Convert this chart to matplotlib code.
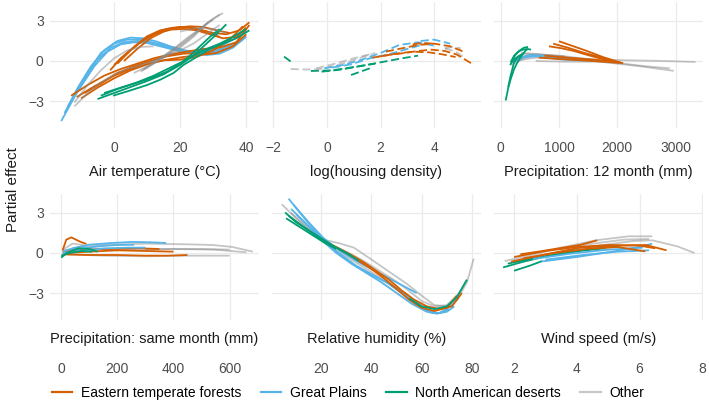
import matplotlib
matplotlib.use('Agg')
import matplotlib.pyplot as plt
from matplotlib.lines import Line2D

plt.rcParams['font.family'] = ['Liberation Sans', 'DejaVu Sans']

# region colours
colours = {'etf': '#D55E00', 'gp': '#56B4E9', 'nad': '#009E73', 'other': '#8C8C8C'}
region_names = ['Eastern temperate forests', 'Great Plains', 'North American deserts', 'Other']
region_keys = ['etf', 'gp', 'nad', 'other']

# each curve: (region, x values, partial effect values)
air_temp = [
    ('gp', [-16, -12, -8, -4, 0, 4, 8, 12, 16, 20, 24, 28, 32, 36, 40],
           [-4.5, -2.7, -0.9, 0.6, 1.3, 1.6, 1.6, 1.35, 1.05, 0.75, 0.65, 0.8, 1.05, 1.6, 2.3]),
    ('gp', [-14, -10, -6, -2, 2, 6, 10, 14, 18, 22, 26, 30, 34, 38, 40],
           [-3.4, -1.9, -0.4, 0.7, 1.25, 1.4, 1.35, 1.1, 0.85, 0.6, 0.5, 0.6, 0.9, 1.5, 1.9]),
    ('gp', [-15, -11, -7, -3, 1, 5, 9, 13, 17, 21, 25, 29, 33],
           [-3.9, -2.0, -0.4, 0.8, 1.5, 1.75, 1.7, 1.45, 1.1, 0.8, 0.7, 0.75, 0.9]),
    ('gp', [-13, -9, -5, -1, 3, 7, 11, 15, 20, 24, 28, 32, 36, 40],
           [-3.0, -1.3, 0.1, 1.0, 1.4, 1.5, 1.4, 1.2, 0.9, 0.6, 0.45, 0.55, 1.0, 1.8]),
    ('gp', [24, 28, 32, 35, 38],
           [0.57, 0.6, 0.85, 1.15, 1.55]),
    ('etf', [-1.2, 2, 6, 10, 14, 18, 22, 26, 30, 34, 38, 41],
            [-0.7, 0.2, 1.05, 1.85, 2.3, 2.5, 2.5, 2.35, 2.1, 2.0, 2.3, 2.9]),
    ('etf', [0, 4, 8, 12, 16, 20, 24, 28, 32],
            [-0.3, 0.6, 1.4, 2.0, 2.4, 2.55, 2.5, 2.2, 1.8]),
    ('etf', [1, 5, 9, 13, 17, 21, 25, 29, 33, 37, 40],
            [-0.2, 0.8, 1.6, 2.1, 2.35, 2.4, 2.3, 2.0, 1.7, 1.8, 2.5]),
    ('etf', [3, 7, 11, 15, 19, 23, 27, 31, 35],
            [0.0, 0.9, 1.7, 2.2, 2.5, 2.6, 2.55, 2.3, 2.1]),
    ('etf', [-11.3, -6, 0, 5, 11, 16, 21, 26, 31, 36, 40],
            [-2.7, -1.9, -1.1, -0.6, -0.15, 0.1, 0.3, 0.45, 0.6, 1.1, 2.0]),
    ('etf', [-10, -5, 0, 5, 10, 15, 20, 25, 30, 35, 39],
            [-2.8, -2.0, -1.3, -0.7, -0.25, 0.05, 0.1, 0.3, 0.8, 1.6, 2.6]),
    ('etf', [-13, -8, -3, 2, 7, 12, 17, 22, 27, 32, 37, 41],
            [-2.6, -1.8, -1.1, -0.6, -0.2, 0.2, 0.5, 0.7, 0.9, 1.0, 1.4, 2.7]),
    ('etf', [-9, -4, 1, 6, 11, 16, 21, 26],
            [-2.4, -1.7, -0.9, -0.4, 0.0, 0.35, 0.55, 0.6]),
    ('nad', [-5, 0, 5, 10, 15, 20, 24, 28, 31, 34],
            [-2.85, -2.4, -1.95, -1.5, -1.0, -0.3, 0.4, 1.3, 2.0, 2.75]),
    ('nad', [-0.3, 5, 10, 14, 18, 21, 25, 29, 33, 37, 41],
            [-2.6, -2.2, -1.8, -1.4, -0.9, -0.3, 0.3, 0.9, 1.3, 1.7, 2.3]),
    ('nad', [-4, 1, 6, 11, 16, 20, 23, 26, 29, 32],
            [-2.6, -2.1, -1.7, -1.3, -0.8, -0.2, 0.4, 1.1, 1.8, 2.4]),
    ('nad', [-3, 2, 7, 12, 17, 22, 27, 32, 36, 40],
            [-2.4, -2.0, -1.6, -1.1, -0.5, 0.1, 0.8, 1.3, 1.8, 2.4]),
    ('other', [-12, -8, -4, 0, 4, 8, 12],
              [-3.1, -1.8, -0.7, 0.2, 0.8, 1.05, 1.1]),
    ('other', [-12, -8, -4, 0, 4, 8, 12, 16, 20, 24, 28, 32],
              [-3.4, -2.4, -1.6, -1.0, -0.6, -0.3, 0.0, 0.4, 0.8, 1.3, 2.0, 2.7]),
    ('other', [8, 12, 16, 20, 24, 28, 32],
              [-0.8, -0.2, 0.4, 1.0, 1.8, 2.8, 3.5]),
    ('other', [9, 13, 17, 21, 25, 29, 33],
              [-0.6, 0.0, 0.7, 1.4, 2.2, 3.0, 3.6]),
    ('other', [8.5, 12.5, 16.5, 20.5, 24.5, 28.5],
              [-0.7, -0.1, 0.55, 1.2, 2.0, 2.9]),
    ('other', [6, 10, 14, 18, 22, 26, 30],
              [-0.9, -0.4, 0.2, 0.9, 1.7, 2.4, 3.1]),
    ('other', [20, 25, 30, 34],
              [2.2, 2.5, 2.4, 2.1]),
]

housing = [
    ('nad', [-1.6, -1.35], [0.33, -0.04]),
    ('nad', [-0.2, 0.5, 1.2, 2.0, 2.8, 3.4], [-0.8, -0.65, -0.4, -0.1, 0.2, 0.4]),
    ('nad', [0.9, 1.6], [-1.05, -0.55]),
    ('nad', [-0.6, 0.2, 1.0, 1.8], [-0.75, -0.7, -0.45, -0.2]),
    ('other', [-1.35, -0.8, -0.3, 0.3, 0.9, 1.7], [-0.6, -0.64, -0.62, -0.35, 0.0, 0.55]),
    ('other', [-0.4, 0.3, 1.0, 1.8], [-0.55, -0.2, 0.2, 0.6]),
    ('other', [4.4, 4.8, 5.1], [0.95, 0.7, 0.3]),
    ('other', [4.4, 4.7, 5.0], [0.95, 1.05, 0.95]),
    ('gp', [-0.1, 0.6, 1.3, 2.0, 2.7, 3.4, 4.1], [-0.55, -0.3, 0.1, 0.6, 1.2, 1.4, 1.1]),
    ('gp', [0.2, 0.9, 1.6, 2.3, 3.0, 3.7], [-0.5, -0.25, 0.2, 0.5, 0.9, 1.3]),
    ('gp', [3.5, 4.0, 4.6], [1.5, 1.6, 1.3]),
    ('etf', [1.7, 2.3, 2.9, 3.4, 3.9, 4.4, 4.85, 5.45], [0.25, 0.45, 0.6, 0.75, 0.85, 0.75, 0.48, -0.25]),
    ('etf', [2.2, 2.8, 3.4, 4.0, 4.6, 5.1], [0.7, 0.95, 1.2, 1.3, 1.1, 0.7]),
    ('etf', [2.0, 2.6, 3.2, 3.8, 4.3, 4.8], [0.35, 0.55, 0.7, 0.65, 0.5, 0.3]),
    ('etf', [3.2, 3.6, 4.0], [1.25, 1.35, 1.3]),
]

precip_12 = [
    ('other', [228, 600, 1000, 1600, 2200, 2800, 3343], [0.0, 0.25, 0.2, 0.12, 0.05, 0.0, -0.07]),
    ('other', [180, 450, 800, 1300, 1800, 2400, 2970], [-0.3, 0.3, 0.4, 0.2, -0.1, -0.4, -0.74]),
    ('other', [300, 600, 1000, 1500, 2000, 2500, 2900], [0.3, 0.5, 0.4, 0.15, -0.15, -0.4, -0.55]),
    ('other', [350, 550, 800, 1100], [0.6, 0.55, 0.45, 0.35]),
    ('other', [360, 560, 810, 1110], [0.55, 0.5, 0.42, 0.3]),
    ('other', [600, 1100, 1600, 2100], [0.0, -0.05, -0.05, -0.15]),
    ('gp', [200, 350, 571, 800, 1030, 1350, 1660], [-0.1, 0.25, 0.37, 0.25, 0.12, 0.05, 0.0]),
    ('gp', [250, 400, 600, 900, 1200], [0.0, 0.3, 0.4, 0.3, 0.2]),
    ('gp', [300, 500, 700, 1000], [0.2, 0.45, 0.4, 0.25]),
    ('etf', [828, 1050, 1257, 1450, 1657, 1850, 2057], [1.1, 0.95, 0.75, 0.5, 0.25, 0.05, -0.12]),
    ('etf', [1000, 1250, 1486, 1750, 2057], [1.48, 1.1, 0.74, 0.3, -0.12]),
    ('etf', [657, 1000, 1400, 1750, 2100], [0.25, 0.15, 0.05, -0.05, -0.15]),
    ('etf', [900, 1150, 1400, 1650, 1900], [1.3, 1.0, 0.65, 0.35, 0.05]),
    ('etf', [750, 1000, 1300, 1600, 1950], [0.4, 0.3, 0.2, 0.1, -0.05]),
    ('nad', [86, 130, 171, 230, 285, 350, 420, 456], [-2.96, -2.0, -1.36, -0.6, -0.12, 0.35, 0.75, 0.87]),
    ('nad', [128, 170, 228, 300, 400], [-1.97, -1.1, -0.12, 0.35, 0.6]),
    ('nad', [170, 230, 300, 380, 460, 520], [-0.1, 0.4, 0.7, 0.85, 0.9, 0.85]),
    ('nad', [200, 260, 330, 400, 470], [0.1, 0.5, 0.8, 1.0, 1.05]),
    ('nad', [160, 220, 290, 360], [-0.3, 0.1, 0.3, 0.4]),
]

precip_month = [
    ('other', [5, 50, 150, 300, 450, 540, 610, 683], [0.0, 0.4, 0.6, 0.7, 0.65, 0.6, 0.45, 0.1]),
    ('other', [5, 100, 250, 400, 550, 660], [0.2, 0.35, 0.3, 0.3, 0.25, 0.05]),
    ('other', [20, 150, 300, 450, 600], [-0.1, -0.2, -0.25, -0.2, -0.2]),
    ('other', [10, 40, 80], [0.3, 0.7, 0.6]),
    ('other', [300, 400, 500, 600], [0.25, 0.3, 0.3, 0.25]),
    ('etf', [5, 18, 36, 65, 90], [0.2, 1.0, 1.17, 0.87, 0.67]),
    ('etf', [5, 100, 200, 300, 380, 450], [-0.1, -0.15, -0.15, -0.2, -0.2, -0.15]),
    ('etf', [5, 80, 180, 280, 350], [0.1, 0.25, 0.3, 0.35, 0.3]),
    ('etf', [10, 100, 200, 300, 400], [0.0, 0.1, 0.2, 0.15, 0.1]),
    ('gp', [5, 40, 100, 180, 255, 320, 374], [0.1, 0.35, 0.62, 0.75, 0.83, 0.8, 0.75]),
    ('gp', [5, 60, 130, 200, 260], [-0.1, 0.3, 0.5, 0.6, 0.62]),
    ('gp', [10, 80, 160, 240, 300], [0.0, 0.2, 0.35, 0.4, 0.4]),
    ('nad', [0, 20, 60, 100, 130], [-0.35, 0.0, 0.35, 0.3, 0.1]),
    ('nad', [0, 30, 70, 110], [-0.2, 0.0, 0.15, 0.1]),
]

humidity = [
    ('other', [4.3, 10, 16, 22, 27, 33, 40, 47, 54, 60, 65, 70, 75, 78, 80.7],
              [3.65, 2.6, 1.6, 0.95, 0.74, 0.4, -0.49, -1.4, -2.3, -3.2, -3.9, -4.0, -3.2, -2.2, -0.42]),
    ('other', [8, 14, 20, 26, 32, 38, 44, 50, 56, 62, 66, 70, 74, 78],
              [3.0, 2.0, 1.0, 0.2, -0.5, -1.2, -1.9, -2.6, -3.4, -4.0, -4.2, -4.05, -3.3, -2.0]),
    ('other', [24, 30, 36, 42, 48, 54, 60, 65, 70, 75],
              [0.6, 0.1, -0.5, -1.2, -1.9, -2.7, -3.6, -4.0, -3.9, -3.0]),
    ('gp', [7, 13.6, 20.3, 27, 33.5, 40, 46.8, 52, 57.5, 61, 64.1, 67, 69.4, 72, 74.7],
           [4.07, 2.54, 1.06, 0.0, -0.91, -1.6, -2.27, -2.9, -3.63, -4.15, -4.49, -4.5, -4.25, -3.9, -3.38]),
    ('gp', [9, 15, 21, 28, 35, 42, 49, 55, 58],
           [3.6, 2.3, 1.1, 0.1, -0.7, -1.4, -2.1, -2.7, -3.0]),
    ('gp', [8, 14, 20, 26, 32, 38, 44, 50, 56, 62, 66, 70, 73],
           [3.3, 2.2, 1.0, 0.0, -0.8, -1.5, -2.2, -3.0, -3.8, -4.4, -4.55, -4.4, -4.0]),
    ('gp', [10, 16, 22, 28, 34, 40, 46, 52, 58, 63, 67, 71],
           [2.9, 1.8, 0.7, -0.2, -1.0, -1.6, -2.2, -3.0, -3.9, -4.4, -4.5, -4.2]),
    ('etf', [20, 25, 30, 35, 40, 45, 50, 55, 60, 65, 70, 74],
            [1.0, 0.5, 0.0, -0.6, -1.2, -1.9, -2.7, -3.5, -4.1, -4.35, -4.1, -3.2]),
    ('etf', [22, 27, 32, 37, 42, 47, 52, 57, 62, 67, 72, 76],
            [0.8, 0.35, -0.15, -0.7, -1.35, -2.0, -2.8, -3.5, -4.0, -4.2, -4.0, -3.0]),
    ('nad', [5.6, 10, 15, 20, 25, 30, 35], [3.04, 2.3, 1.7, 1.1, 0.5, 0.0, -0.6]),
    ('nad', [6, 11, 16, 21, 26], [2.6, 2.0, 1.4, 0.8, 0.3]),
    ('nad', [7, 12, 17, 22, 27, 32], [2.8, 2.1, 1.4, 0.8, 0.3, -0.2]),
    ('nad', [55, 60, 65, 70, 74, 78], [-3.4, -4.0, -4.2, -4.0, -3.3, -2.0]),
]

wind = [
    ('other', [1.7, 2.5, 3.5, 4.6, 5.65, 6.4], [-0.6, -0.2, 0.4, 0.95, 1.25, 1.25]),
    ('other', [2.0, 3.0, 4.0, 5.0, 5.8, 6.4, 7.2, 7.75], [-0.6, -0.15, 0.3, 0.65, 0.9, 0.95, 0.5, 0.0]),
    ('other', [3.5, 4.5, 5.5, 6.3], [0.3, 0.7, 1.0, 1.05]),
    ('nad', [1.65, 2.3, 3.02, 3.8, 4.6, 5.33], [-1.08, -0.65, -0.25, 0.1, 0.35, 0.5]),
    ('nad', [2.0, 2.5, 2.9], [-1.33, -0.95, -0.6]),
    ('nad', [1.8, 2.5, 3.3, 4.1, 4.9], [-0.8, -0.45, -0.15, 0.15, 0.35]),
    ('gp', [2.9, 4.0, 5.12, 6.0, 6.4], [-0.63, -0.3, 0.1, 0.45, 0.7]),
    ('gp', [3.0, 4.2, 5.3, 6.3], [-0.5, -0.15, 0.1, 0.2]),
    ('gp', [2.6, 3.8, 5.0, 6.1], [-0.45, -0.05, 0.25, 0.4]),
    ('etf', [2.2, 2.9, 3.55, 4.1, 4.65], [-0.1, 0.15, 0.4, 0.6, 0.95]),
    ('etf', [1.9, 3.0, 4.1, 5.2, 6.2, 6.86], [-0.65, -0.1, 0.4, 0.55, 0.6, 0.2]),
    ('etf', [2.3, 3.3, 4.3, 5.3, 6.18], [-0.4, 0.0, 0.3, 0.45, 0.12]),
    ('etf', [2.0, 3.0, 4.0, 5.0, 6.0, 6.5], [-0.3, 0.15, 0.45, 0.6, 0.55, 0.35]),
]

y_ticks = [-3, 0, 3]

# (curves, title, x limits, x ticks, dashed)
panels = [
    (air_temp, 'Air temperature (°C)', (-19.4, 43.9), [0, 20, 40], False),
    (housing, 'log(housing density)', (-2.05, 5.75), [-2, 0, 2, 4], True),
    (precip_12, 'Precipitation: 12 month (mm)', (-115, 3470), [0, 1000, 2000, 3000], False),
    (precip_month, 'Precipitation: same month (mm)', (-40, 705), [0, 200, 400, 600], False),
    (humidity, 'Relative humidity (%)', (0.4, 83.6), [20, 40, 60, 80], False),
    (wind, 'Wind speed (m/s)', (1.36, 8.02), [2, 4, 6, 8], False),
]

W, H = 709, 408
fig = plt.figure(figsize=(W / 100, H / 100), dpi=100)

col_left = [50, 272, 494]
row_top = [2, 194]
pw, ph = 209, 126

for i, (curves, title, xlim, xticks, dashed) in enumerate(panels):
    r, c = divmod(i, 3)
    x0, y0 = col_left[c], row_top[r]
    ax = fig.add_axes([x0 / W, 1 - (y0 + ph) / H, pw / W, ph / H])
    ax.grid(True, color='#EBEBEB', lw=0.9)
    ax.set_axisbelow(True)
    for s in ax.spines.values():
        s.set_visible(False)
    for region, xs, ys in curves:
        kw = dict(color=colours[region], lw=1.3, solid_capstyle='butt')
        if region == 'other':
            kw['alpha'] = 0.5
        if dashed:
            kw['dashes'] = (4.5, 2)
        ax.plot(xs, ys, **kw)
    ax.set_xlim(*xlim)
    ax.set_ylim(-5.02, 4.42)
    ax.set_xticks(xticks)
    ax.set_yticks(y_ticks)
    ax.set_yticklabels(['\u22123', '0', '3'])
    ax.set_xticklabels([str(t).replace('-', '\u2212') for t in xticks])
    ax.tick_params(length=0, labelsize=10, labelcolor='#4D4D4D',
                   pad=(9 if r == 0 else 30))
    ax.tick_params(axis='y', pad=4.5, labelleft=(c == 0))
    ty = 172 if r == 0 else 339
    fig.text((x0 + pw / 2) / W, 1 - ty / H, title, ha='center', va='center',
             fontsize=10.5, color='#1A1A1A')

fig.text(13 / W, 1 - 190 / H, 'Partial effect', rotation=90, ha='center', va='center',
         fontsize=11, color='#1A1A1A')

handles = [Line2D([], [], color=colours[k] if k != 'other' else '#C8C8C8', lw=1.6)
           for k in region_keys]
fig.legend(handles, region_names, loc='center', ncol=4, frameon=False,
           bbox_to_anchor=(348 / W, 1 - 393 / H), fontsize=10,
           handlelength=1.5, handletextpad=0.6, columnspacing=1.4)

fig.savefig('out.png', dpi=100)
